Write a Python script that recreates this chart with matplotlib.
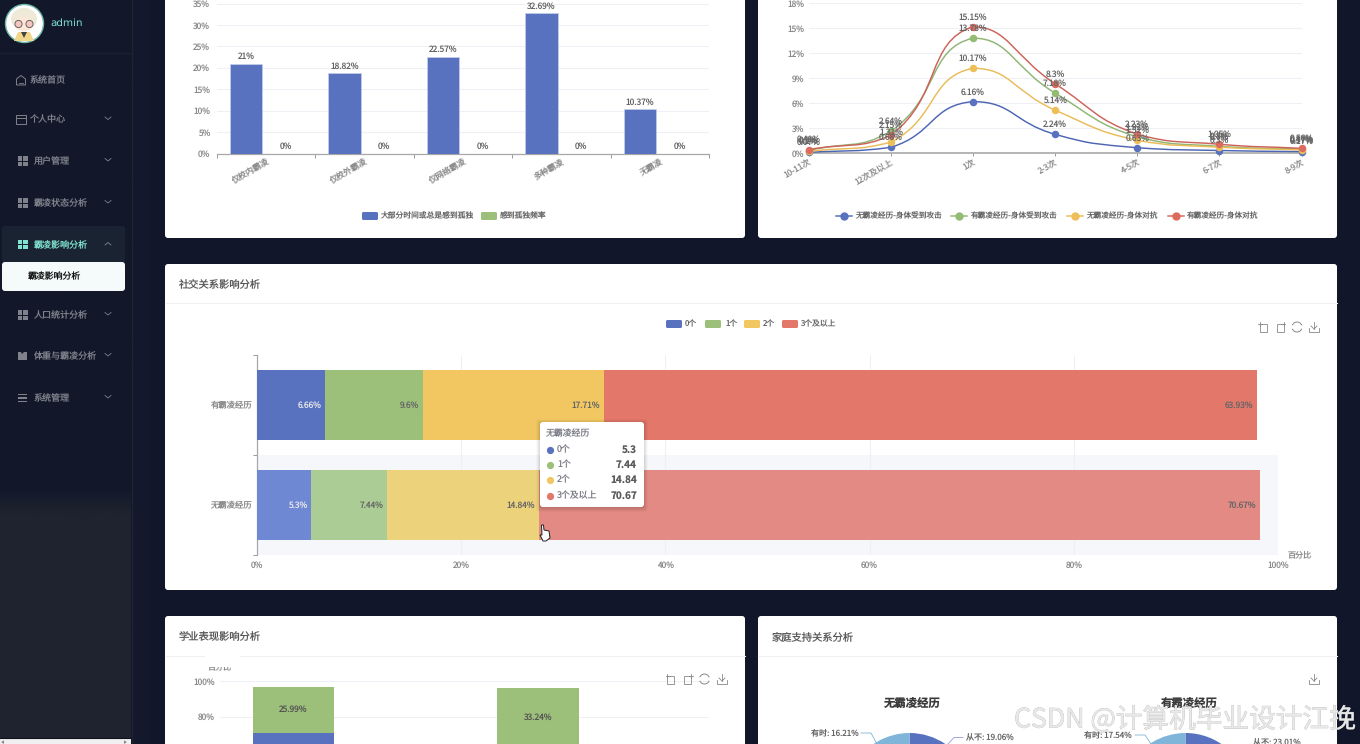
import numpy as np
import matplotlib
matplotlib.use('Agg')
import matplotlib.pyplot as plt
from matplotlib.patches import FancyBboxPatch, Rectangle, Circle, Ellipse, PathPatch, Polygon, Arc
from matplotlib.path import Path
from matplotlib.colors import LinearSegmentedColormap
import matplotlib.patheffects as pe

plt.rcParams['font.family'] = ['Noto Sans CJK SC', 'DejaVu Sans']
plt.rcParams['text.hinting'] = 'no_hinting'

W, H = 1360, 744

# chart 1: loneliness
lonely_cats = ['仅校内霸凌', '仅校外霸凌', '仅网络霸凌', '多种霸凌', '无霸凌']
lonely_most = [21, 18.82, 22.57, 32.69, 10.37]
lonely_freq = [0, 0, 0, 0, 0]
lonely_legend = ['大部分时间或总是感到孤独', '感到孤独频率']

# chart 2: physical conflict
hit_cats = ['10-11次', '12次及以上', '1次', '2-3次', '4-5次', '6-7次', '8-9次']
hit_no_attack = [0.07, 0.68, 6.16, 2.24, 0.63, 0.3, 0.17]
hit_yes_attack = [0.3, 2.64, 13.78, 7.18, 1.92, 0.8, 0.47]
hit_no_fight = [0.2, 1.31, 10.17, 5.14, 1.52, 0.7, 0.37]
hit_yes_fight = [0.41, 2.15, 15.15, 8.3, 2.23, 1.05, 0.56]
hit_legend = ['无霸凌经历-身体受到攻击', '有霸凌经历-身体受到攻击', '无霸凌经历-身体对抗', '有霸凌经历-身体对抗']

# chart 3: friends
friend_cats = ['有霸凌经历', '无霸凌经历']
friend_legend = ['0个', '1个', '2个', '3个及以上']
friend_yes = [6.66, 9.6, 17.71, 63.93]
friend_no = [5.3, 7.44, 14.84, 70.67]

# chart 4: school performance (only the top of it is on screen)
school_lower = [70.8, 62.83]
school_upper = [25.99, 33.24]

# chart 5: family support (only the top of the pies is on screen)
pie_no = [19.06, 64.73, 16.21]
pie_yes = [23.01, 59.45, 17.54]

menu_items = ['用户管理', '霸凌状态分析', '霸凌影响分析', '人口统计分析', '体重与霸凌分析', '系统管理']
menu_y = [161, 203, 244.5, 315, 356, 398]

BLUE, GREEN, YELLOW, RED = '#5872c0', '#9cbf7a', '#f2c762', '#e2776a'
LINE_COLORS = ['#4d66b4', '#8fb573', '#e9bc58', '#cc635a']
MARK_COLORS = ['#5872c0', '#93bb74', '#eebf58', '#dd6b5d']
SOFT = ['#6f88d4', '#abcc94', '#edd27c', '#e28a83']
LIGHTBLUE = '#7fb5d8'
AXIS_TXT = '#8c8c8c'
LABEL_TXT = '#666666'
GRID = '#eef0f5'
SMALL = 5.8


def px_axes(x0, y0, x1, y1, z=2):
    # axes placed by pixel box, y counted from the top of the picture
    ax = fig.add_axes([x0 / W, 1 - y1 / H, (x1 - x0) / W, (y1 - y0) / H], zorder=z)
    ax.patch.set_alpha(0)
    return ax


def card(x0, y0, x1, y1):
    bg.add_patch(FancyBboxPatch((x0 + 3, y0 + 3), x1 - x0 - 6, y1 - y0 - 6, boxstyle='round,pad=3',
                                fc='white', ec='none'))


def card_title(x, y, text, x1):
    fg.text(x, y, text, fontsize=7.4, color='#5a5a5a', va='center')
    bg.plot([x - 14, x1], [y + 19, y + 19], color='#f1f1f1', lw=0.8)


def crop_icon(x, y, flip=False):
    s = -1 if flip else 1
    fg.add_patch(Rectangle((x - 3.5, y - 3), 7, 7.5, fc='none', ec='#888888', lw=0.6))
    fg.plot([x - s * 5, x - s * 1], [y - 3, y - 3], color='#888888', lw=0.6)
    fg.plot([x - s * 3.5, x - s * 3.5], [y - 5, y - 1], color='#888888', lw=0.6)


def refresh_icon(x, y):
    fg.add_patch(Arc((x, y), 10, 10, theta1=20, theta2=160, ec='#888888', lw=0.7))
    fg.add_patch(Arc((x, y), 10, 10, theta1=200, theta2=340, ec='#888888', lw=0.7))


def save_icon(x, y):
    fg.plot([x, x], [y - 5, y + 2], color='#888888', lw=0.6)
    fg.plot([x - 3, x, x + 3], [y - 1, y + 2, y - 1], color='#888888', lw=0.6)
    fg.plot([x - 5, x - 5, x + 5, x + 5], [y + 1, y + 4.5, y + 4.5, y + 1], color='#888888', lw=0.6)


def toolbox(xs, y):
    crop_icon(xs[0], y)
    crop_icon(xs[1], y, flip=True)
    refresh_icon(xs[2], y)
    save_icon(xs[3], y)


def legend_rect(x, y, color, text, text_x, size=SMALL):
    fg.add_patch(FancyBboxPatch((x + 1.5, y - 2.5), 13, 5, boxstyle='round,pad=1.5', fc=color, ec='none'))
    fg.text(text_x, y, text, fontsize=size, color='#666666', va='center')


def legend_line(x, y, color, text, text_x):
    fg.plot([x, x + 16], [y, y], color=color, lw=1.1)
    fg.plot([x + 8], [y], 'o', color=color, ms=5)
    fg.text(text_x, y, text, fontsize=5.5, color='#666666', va='center')


def smooth_curve(x, y, kx, ky):
    # bezier through the points, control points as in a smoothed echarts line
    verts = [(x[0], y[0])]
    codes = [Path.MOVETO]
    n = len(x)
    out_cp, in_cp = [], []
    for i in range(n):
        a = max(i - 1, 0)
        b = min(i + 1, n - 1)
        lp = np.hypot((x[i] - x[a]) * kx, (y[i] - y[a]) * ky)
        ln = np.hypot((x[b] - x[i]) * kx, (y[b] - y[i]) * ky)
        r = lp / (lp + ln)
        vx, vy = x[b] - x[a], y[b] - y[a]
        out_cp.append((x[i] + vx * 0.5 * (1 - r), y[i] + vy * 0.5 * (1 - r)))
        in_cp.append((x[i] - vx * 0.5 * r, y[i] - vy * 0.5 * r))
    for i in range(n - 1):
        lo, hi = min(y[i], y[i + 1]), max(y[i], y[i + 1])
        c1 = (out_cp[i][0], float(np.clip(out_cp[i][1], lo, hi)))
        c2 = (in_cp[i + 1][0], float(np.clip(in_cp[i + 1][1], lo, hi)))
        verts += [c1, c2, (x[i + 1], y[i + 1])]
        codes += [Path.CURVE4] * 3
    return Path(verts, codes)


fig = plt.figure(figsize=(13.6, 7.44), dpi=100, facecolor='#12162a')

bg = fig.add_axes([0, 0, 1, 1], zorder=0)
fg = fig.add_axes([0, 0, 1, 1], zorder=5)
for a in (bg, fg):
    a.set_xlim(0, W)
    a.set_ylim(H, 0)
    a.axis('off')
fg.patch.set_alpha(0)

# sidebar, darker part on top and lighter from about y=505 down
side = np.linspace(0, 1, 400)[:, None]
side = np.clip((side - 0.655) / 0.035, 0, 1)
side_cmap = LinearSegmentedColormap.from_list('side', ['#12182a', '#1e232f'])
bg.imshow(side, extent=(0, 131, H, 0), aspect='auto', cmap=side_cmap, vmin=0, vmax=1, zorder=0)
bg.set_xlim(0, W)
bg.set_ylim(H, 0)
bg.add_patch(Rectangle((132, 0), 19, H, fc='#14182d', ec='none'))
bg.plot([131.5, 131.5], [0, H], color='#1f2433', lw=1)
bg.plot([0, 131], [52.5, 52.5], color='#1b2030', lw=1)
bg.add_patch(Rectangle((0, 738), 131, 6, fc='#f0f0f0', ec='none'))
bg.plot([0, 131], [737.5, 737.5], color='#0e1220', lw=0.8)
bg.add_patch(Polygon([[1, 742], [4, 740.5], [4, 744]], fc='#888888', ec='none', zorder=3))
bg.add_patch(Polygon([[127, 742], [124, 740.5], [124, 744]], fc='#888888', ec='none', zorder=3))

# avatar
bg.add_patch(Circle((24.5, 23.5), 19, fc='white', ec='#6fb8a8', lw=1))
bg.add_patch(Ellipse((24, 19), 26, 22, fc='#efe9d8', ec='none'))
bg.add_patch(Ellipse((24, 24), 18, 15, fc='#fbe8d8', ec='none'))
bg.add_patch(Circle((18.5, 24), 3.6, fc='#f3c6c0', ec='#555555', lw=0.6))
bg.add_patch(Circle((29.5, 24), 3.6, fc='#f3c6c0', ec='#555555', lw=0.6))
bg.add_patch(Polygon([[14, 41], [18, 32], [30, 32], [34, 41]], fc='#f0d78c', ec='none'))
bg.add_patch(Polygon([[21, 32], [27, 32], [24, 38]], fc='#444444', ec='none'))
fg.text(50.5, 23.5, 'admin', fontsize=7.5, color='#7fe3d0', va='center', family='DejaVu Sans')

MENU_GREY = '#7f828b'
ACTIVE = '#7fe3d0'
bg.add_patch(FancyBboxPatch((5, 229), 117, 33, boxstyle='round,pad=3', fc='#1a2331', ec='none'))
bg.add_patch(FancyBboxPatch((5, 265), 117, 23, boxstyle='round,pad=3', fc='#f4fbfa', ec='none'))
fg.text(28, 277, '霸凌影响分析', fontsize=6.4, color='#111111', va='center')

# first two menu rows have outline icons
fg.text(30, 80.5, '系统首页', fontsize=6.5, color=MENU_GREY, va='center')
fg.text(30, 120, '个人中心', fontsize=6.5, color=MENU_GREY, va='center')
fg.add_patch(Polygon([[16.5, 79], [21, 75.5], [25.5, 79], [25.5, 85], [16.5, 85]], fc='none', ec=MENU_GREY, lw=0.7))
fg.plot([19, 23], [82.5, 82.5], color=MENU_GREY, lw=0.6)
fg.add_patch(Rectangle((16, 115), 10, 9, fc='none', ec=MENU_GREY, lw=0.7))
fg.plot([16, 26], [118, 118], color=MENU_GREY, lw=0.7)
fg.plot([105, 108, 111], [117, 119.5, 117], color=MENU_GREY, lw=0.6)

for name, y in zip(menu_items, menu_y):
    c = ACTIVE if name == '霸凌影响分析' else MENU_GREY
    fg.text(34, y + 0.5, name, fontsize=6.5, color=c, va='center')
    if name == '体重与霸凌分析':
        fg.add_patch(Polygon([[18, y - 4], [21, y - 4], [22, y - 2], [24, y - 4], [27, y - 4], [27, y + 4], [18, y + 4]],
                             fc=c, ec='none'))
    elif name == '系统管理':
        for dy in (-3.5, 0, 3.5):
            fg.add_patch(Rectangle((18, y + dy - 0.6), 9, 1.2, fc=c, ec='none'))
    else:
        for dx in (18, 23.2):
            for dy in (-4.6, 0.6):
                fg.add_patch(Rectangle((dx, y + dy), 4.3, 4.2, fc=c, ec='none'))
    if name == '霸凌影响分析':
        fg.plot([105, 108, 111], [y + 0.5, y - 2, y + 0.5], color=MENU_GREY, lw=0.6)
    else:
        fg.plot([105, 108, 111], [y - 2.5, y, y - 2.5], color=MENU_GREY, lw=0.6)

# cards
card(165, -12, 745, 238)
card(758, -12, 1337, 238)
card(165, 264, 1337, 590)
card(165, 616, 745, 760)
card(758, 616, 1337, 760)
card_title(179, 284, '社交关系影响分析', 1337)
card_title(179, 636.5, '学业表现影响分析', 745)
card_title(772, 636.5, '家庭支持关系分析', 1337)

# chart 1
ax1 = px_axes(216.5, 3.5, 709, 153.5)
x1 = np.arange(len(lonely_cats))
ax1.bar(x1 - 0.2, lonely_most, width=0.333, color=BLUE, edgecolor='#c5cfea', linewidth=0.5, zorder=3)
ax1.bar(x1 + 0.2, lonely_freq, width=0.333, color=GREEN, zorder=3)
ax1.set_xlim(-0.5, 4.5)
ax1.set_ylim(0, 35)
ax1.set_yticks(range(0, 36, 5))
ax1.set_yticklabels([f'{v}%' for v in range(0, 36, 5)])
ax1.set_xticks(np.arange(-0.5, 5))
ax1.set_xticklabels([])
ax1.set_xticks(x1, lonely_cats, minor=True)
for t in ax1.get_xticklabels(minor=True):
    t.set_rotation(30)
    t.set_ha('right')
    t.set_va('top')
    t.set_rotation_mode('anchor')
ax1.tick_params(axis='x', which='major', length=3, width=0.7, color='#999999')
ax1.tick_params(axis='x', which='minor', length=0, pad=3, labelsize=6, labelcolor=AXIS_TXT)
ax1.tick_params(axis='y', length=0, pad=4.5, labelsize=6, labelcolor=AXIS_TXT)
ax1.grid(axis='y', color=GRID, lw=0.8)
ax1.set_axisbelow(True)
for s in ('top', 'right', 'left'):
    ax1.spines[s].set_visible(False)
ax1.spines['bottom'].set_color('#a8a8a8')
ax1.spines['bottom'].set_linewidth(0.9)
for x, v in zip(x1 - 0.2, lonely_most):
    ax1.annotate(f'{v}%', (x, v), xytext=(0, 5), textcoords='offset points', ha='center', va='center',
                 fontsize=6, color=LABEL_TXT)
for x, v in zip(x1 + 0.2, lonely_freq):
    ax1.annotate(f'{v}%', (x, v), xytext=(0, 5), textcoords='offset points', ha='center', va='center',
                 fontsize=6, color=LABEL_TXT)
legend_rect(362, 216, BLUE, lonely_legend[0], 381, size=5.6)
legend_rect(481, 216, GREEN, lonely_legend[1], 500, size=5.6)

# chart 2
ax2 = px_axes(808.8, 3, 1301.6, 153)
x2 = np.arange(len(hit_cats))
hit_series = [hit_no_attack, hit_yes_attack, hit_no_fight, hit_yes_fight]
for vals, line_c, mark_c in zip(hit_series, LINE_COLORS, MARK_COLORS):
    curve = smooth_curve(list(x2), vals, 82.1, 150 / 18)
    ax2.add_patch(PathPatch(curve, fc='none', ec=line_c, lw=1.05, zorder=3, clip_on=False))
    ax2.plot(x2, vals, 'o', color=mark_c, ms=4.4, zorder=4, clip_on=False, ls='none')
    for x, v in zip(x2, vals):
        ax2.annotate(f'{v}%', (x, v), xytext=(0, 7), textcoords='offset points', ha='center', va='center',
                     fontsize=6, color=LABEL_TXT, zorder=5)
ax2.set_xlim(0, 6)
ax2.set_ylim(0, 18)
ax2.set_yticks(range(0, 19, 3))
ax2.set_yticklabels([f'{v}%' for v in range(0, 19, 3)])
ax2.set_xticks(x2)
ax2.set_xticklabels(hit_cats, rotation=30, ha='right', va='top', rotation_mode='anchor')
ax2.tick_params(axis='x', length=2.5, width=0.7, color='#999999', pad=1, labelsize=6, labelcolor=AXIS_TXT)
ax2.tick_params(axis='y', length=0, pad=3.5, labelsize=6, labelcolor=AXIS_TXT)
ax2.grid(axis='y', color=GRID, lw=0.8)
ax2.grid(axis='x', visible=False)
ax2.set_axisbelow(True)
for s in ('top', 'right', 'left'):
    ax2.spines[s].set_visible(False)
ax2.spines['bottom'].set_color('#a8a8a8')
ax2.spines['bottom'].set_linewidth(1.2)
for x, c, t, tx in zip([836, 951.4, 1067, 1168], MARK_COLORS, hit_legend, [854.7, 971, 1086, 1186.5]):
    legend_line(x, 216, c, t, tx)

# chart 3
ax3 = px_axes(257, 355, 1278, 555)
ax3.axhspan(0.5, 1.5, color='#f5f7fb', zorder=0, lw=0)
left_yes, left_no = 0, 0
for i in range(4):
    ax3.barh(0, friend_yes[i], left=left_yes, height=0.695, color=[BLUE, GREEN, YELLOW, RED][i], zorder=3)
    ax3.barh(1, friend_no[i], left=left_no, height=0.695, color=SOFT[i], zorder=3)
    left_yes += friend_yes[i]
    left_no += friend_no[i]
    for row, end, v in ((0, left_yes, friend_yes[i]), (1, left_no, friend_no[i])):
        col = '#e8e8e8' if i == 0 else '#666666'
        ax3.annotate(f'{v}%', (end, row), xytext=(-2.5, 0), textcoords='offset points', ha='right', va='center',
                     fontsize=6, color=col, zorder=4)
ax3.set_xlim(0, 100)
ax3.set_ylim(1.5, -0.5)
ax3.set_xticks(range(0, 101, 20))
ax3.set_xticklabels([f'{v}%' for v in range(0, 101, 20)])
ax3.set_yticks([-0.5, 0.5, 1.5])
ax3.set_yticklabels([])
ax3.set_yticks([0, 1], friend_cats, minor=True)
ax3.tick_params(axis='y', which='major', length=3, width=0.7, color='#999999')
ax3.tick_params(axis='y', which='minor', length=0, pad=3.5, labelsize=6, labelcolor=AXIS_TXT)
ax3.tick_params(axis='x', length=0, pad=4.5, labelsize=6, labelcolor=AXIS_TXT)
ax3.grid(axis='x', color=GRID, lw=0.8)
ax3.set_axisbelow(True)
for s in ('top', 'right', 'bottom'):
    ax3.spines[s].set_visible(False)
ax3.spines['left'].set_color('#a8a8a8')
ax3.spines['left'].set_linewidth(0.9)
fg.text(1288, 555, '百分比', fontsize=SMALL, color=AXIS_TXT, va='center')
for x, c, t, tx in zip([666, 705, 744, 782], [BLUE, GREEN, YELLOW, RED], friend_legend, [685, 725, 763, 801]):
    legend_rect(x, 324, c, t, tx, size=5.6)
toolbox([1263, 1280, 1297, 1314], 327)

# tooltip over chart 3
for grow, alpha in ((4, 0.02), (3, 0.03), (2, 0.04), (1, 0.05)):
    fg.add_patch(FancyBboxPatch((543 - grow, 425 - grow + 1), 98 + 2 * grow, 79 + 2 * grow, boxstyle='round,pad=3',
                                fc='black', ec='none', alpha=alpha))
fg.add_patch(FancyBboxPatch((543, 425), 98, 79, boxstyle='round,pad=3', fc='white', ec='none'))
fg.text(546, 434, friend_cats[1], fontsize=6.4, color='#7a7c85', va='center')
for y, name, v, c in zip([450, 465, 480, 496], friend_legend, friend_no, [BLUE, GREEN, YELLOW, RED]):
    fg.plot([550], [y], 'o', color=c, ms=4.2)
    fg.text(557, y, name, fontsize=6.4, color='#7a7c85', va='center')
    fg.text(637, y, f'{v}', fontsize=7.2, color='#5a5a5a', va='center', ha='right', weight='bold')

# hand cursor
fg.add_patch(Polygon([[541.5, 525], [543.5, 525], [544, 530], [549, 531], [550, 538], [546, 541], [543, 541], [540, 535],
                      [542, 535]], fc='white', ec='#222222', lw=0.7, zorder=8))

# chart 4
ax4 = px_axes(220, 681, 709, 859)
x4 = np.arange(2)
ax4.bar(x4 - 0.2, school_lower, width=0.333, color=BLUE, zorder=3)
ax4.bar(x4 - 0.2, school_upper, bottom=school_lower, width=0.333, color=GREEN, zorder=3)
ax4.set_xlim(-0.5, 1.5)
ax4.set_ylim(0, 100)
ax4.set_yticks(range(0, 101, 20))
ax4.set_yticklabels([f'{v}%' for v in range(0, 101, 20)])
ax4.set_xticks([])
ax4.tick_params(axis='y', length=0, pad=3.5, labelsize=6, labelcolor=AXIS_TXT)
ax4.grid(axis='y', color=GRID, lw=0.8)
ax4.set_axisbelow(True)
for s in ax4.spines.values():
    s.set_visible(False)
for x, lo, up in zip(x4 - 0.2, school_lower, school_upper):
    ax4.text(x, lo + up / 2, f'{up}%', ha='center', va='center', fontsize=6, color='#555555', zorder=4)
# the axis name is cut by the chart box in the reference, only its lower half shows
fg.text(220, 667, '百分比', fontsize=SMALL, color=AXIS_TXT, va='center', ha='center', zorder=3)
fg.add_patch(Rectangle((205, 656), 35, 10.6, fc='white', ec='none', zorder=4))
toolbox([670.5, 687.5, 704.5, 722], 679)

# chart 5
for cx, vals, title, tx in ((909.5, pie_no, '无霸凌经历', 912), (1185.5, pie_yes, '有霸凌经历', 1189)):
    ax = px_axes(cx - 64, 733, cx + 64, 861)
    ax.pie(vals, colors=[BLUE, '#9cbf7a', LIGHTBLUE], startangle=90, counterclock=False, radius=1,
           wedgeprops={'linewidth': 0})
    ax.set_xlim(-1, 1)
    ax.set_ylim(-1, 1)
    fg.text(tx, 703, title, fontsize=8.2, weight='bold', color='#3a3a3a', ha='center', va='center')
save_icon(1314, 679)

fg.plot([948, 954, 963], [744, 737.5, 737.5], color='#8f9fd6', lw=0.6)
fg.text(966, 737.5, f'从不: {pie_no[0]}%', fontsize=SMALL, color='#666666', va='center')
fg.plot([861, 871, 877], [733, 733, 744], color=LIGHTBLUE, lw=0.6)
fg.text(858.5, 733, f'有时: {pie_no[2]}%', fontsize=SMALL, color='#666666', va='center', ha='right')
fg.plot([1135, 1145, 1151], [735, 735, 744], color=LIGHTBLUE, lw=0.6)
fg.text(1132, 735, f'有时: {pie_yes[2]}%', fontsize=SMALL, color='#666666', va='center', ha='right')
fg.text(1252.7, 743, f'从不: {pie_yes[0]}%', fontsize=SMALL, color='#666666', va='center')

# watermark
wm = fg.text(1014, 720, 'CSDN @计算机毕业设计江挽', fontsize=19.2, color='#e8e8e8', va='center', zorder=9)
wm.set_path_effects([pe.withStroke(linewidth=0.4, foreground='#b4b4b4')])

fig.savefig('out.png', dpi=100, facecolor=fig.get_facecolor())
